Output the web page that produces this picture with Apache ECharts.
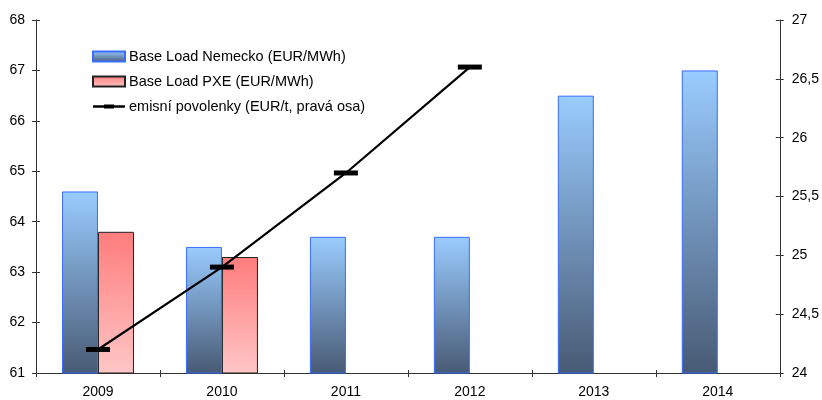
<!DOCTYPE html>
<html><head><meta charset="utf-8">
<script src="https://cdn.jsdelivr.net/npm/echarts@6/dist/echarts.min.js"></script>
<style>html,body{margin:0;padding:0;background:#fff}#c{width:822px;height:400px}</style>
</head><body><div id="c"></div>
<script>
const categories = ['2009','2010','2011','2012','2013','2014'];
const nemecko = [64.6, 63.5, 63.7, 63.7, 66.5, 67.0];
const pxe = [63.8, 63.3, null, null, null, null];
const povolenky = [24.2, 24.9, 25.7, 26.6, null, null];
const seriesNames = ['Base Load Nemecko (EUR/MWh)', 'Base Load PXE (EUR/MWh)', 'emisní povolenky (EUR/t, pravá osa)'];

const FONT = '"Liberation Sans", Arial, sans-serif';
const axisColor = '#333';
const chart = echarts.init(document.getElementById('c'), null, {renderer: 'canvas'});

const yBase = (extra) => Object.assign({
  type: 'value', splitLine: {show: false},
  axisLine: {show: true, lineStyle: {color: axisColor, width: 1}},
  axisTick: {show: true, length: 4, lineStyle: {color: axisColor}},
  axisLabel: {color: '#000', fontFamily: FONT, fontSize: 14}
}, extra);

chart.setOption({
  animation: false,
  grid: {left: 36, right: 41, top: 20, bottom: 27, containLabel: false},
  legend: {
    orient: 'vertical', left: 87, top: 44,
    itemWidth: 32, itemHeight: 10, itemGap: 10,
    textStyle: {fontFamily: FONT, fontSize: 14.5, color: '#000', lineHeight: 14, padding: [0, 0, 0, -1]},
    data: [
      {name: seriesNames[0], icon: 'rect'},
      {name: seriesNames[1], icon: 'rect'},
      {name: seriesNames[2], icon: 'path://M0,0L0,0M0,3.8H32V6.2H0Z M11,3H21V7H11Z M32,10L32,10'}
    ]
  },
  xAxis: [{
    type: 'category', data: categories,
    axisLine: {lineStyle: {color: axisColor, width: 1}},
    axisTick: {show: true, length: 4, lineStyle: {color: axisColor}},
    axisLabel: {color: '#000', fontFamily: FONT, fontSize: 14, margin: 12}
  }, {
    type: 'category', data: categories, position: 'bottom',
    axisLine: {show: false},
    axisTick: {show: true, inside: true, length: 3, lineStyle: {color: axisColor}},
    axisLabel: {show: false}
  }],
  yAxis: [
    yBase({min: 61, max: 68, interval: 1, position: 'left', axisLabel: {color: '#000', fontFamily: FONT, fontSize: 14, margin: 11}}),
    yBase({min: 24, max: 27, interval: 0.5, position: 'right',
      axisLabel: {color: '#000', fontFamily: FONT, fontSize: 14, margin: 12,
        formatter: v => String(v).replace('.', ',')}}),
    yBase({min: 61, max: 68, interval: 1, position: 'left', axisLine: {show: false},
      axisTick: {show: true, inside: true, length: 4, lineStyle: {color: axisColor}}, axisLabel: {show: false}}),
    yBase({min: 24, max: 27, interval: 0.5, position: 'right', axisLine: {show: false},
      axisTick: {show: true, inside: true, length: 4, lineStyle: {color: axisColor}}, axisLabel: {show: false}})
  ],
  series: [{
    name: seriesNames[0], type: 'bar', data: nemecko, yAxisIndex: 0,
    barWidth: 36, barGap: '0%',
    itemStyle: {
      color: new echarts.graphic.LinearGradient(0, 0, 0, 1, [
        {offset: 0, color: '#99ccff'}, {offset: 1, color: '#485a74'}]),
      borderColor: '#3a6cff', borderWidth: 1
    }
  }, {
    name: seriesNames[1], type: 'bar', data: pxe, yAxisIndex: 0,
    barWidth: 36, barGap: '0%',
    itemStyle: {
      color: new echarts.graphic.LinearGradient(0, 0, 0, 1, [
        {offset: 0, color: '#ff7c7c'}, {offset: 1, color: '#ffc6c6'}]),
      borderColor: '#222', borderWidth: 1
    }
  }, {
    name: seriesNames[2], type: 'line', data: povolenky, yAxisIndex: 1,
    symbol: 'rect', symbolSize: [24, 5],
    lineStyle: {color: '#000', width: 2.2},
    itemStyle: {color: '#000'}, z: 5
  }]
});
</script></body></html>
